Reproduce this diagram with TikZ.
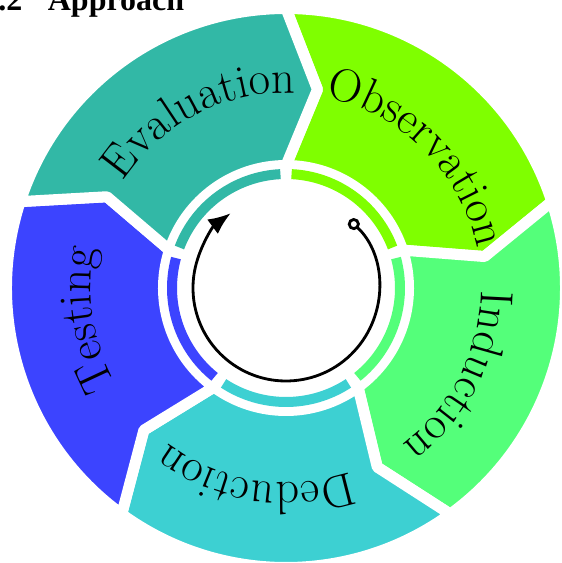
\documentclass[tikz,border=0pt]{standalone}
\usepackage{fontspec}
\newfontfamily\headfont{Liberation Serif}
\usetikzlibrary{decorations.text,arrows.meta}

\definecolor{obscol}{RGB}{127,255,0}
\definecolor{indcol}{RGB}{84,255,122}
\definecolor{dedcol}{RGB}{61,208,210}
\definecolor{testcol}{RGB}{60,68,255}
\definecolor{evalcol}{RGB}{50,184,166}

\newcommand{\segfont}{\fontsize{26.5}{31}\selectfont}
% radii of the ring (cm)
\newcommand{\rOut}{5.59}
\newcommand{\rIn}{2.45}
\newcommand{\rMid}{4.02}
\newcommand{\rText}{3.90}
\newcommand{\rRing}{2.28}
\newcommand{\rArr}{1.86}

\tikzset{
    segment/.style={fill=#1,draw=white,line width=0.22cm,line join=round},
    ringarc/.style={draw=#1,line width=0.2cm},
    cyclearrow/.style={line width=1.6pt,
        {Circle[open,length=0.24cm,width=0.24cm]}-{Latex[length=0.45cm,width=0.36cm]}},
}

\begin{document}
\begin{tikzpicture}
\useasboundingbox (-5.72,-5.50) rectangle (5.50,5.76);
\fill[white] (-5.72,-5.50) rectangle (5.50,5.76);

\node[anchor=base west,inner sep=0,font=\headfont\bfseries\fontsize{18.2}{22}\selectfont]
    (heading) at (-6.08,5.54) {5.2\hspace{0.8em}Approach};

% the five arrow shaped segments, clockwise
\foreach \a/\col/\word in {90/obscol/Observation,18/indcol/Induction,
        -54/dedcol/Deduction,-126/testcol/Testing,162/evalcol/Evaluation}{
    \pgfmathsetmacro{\segEnd}{\a-72}
    \pgfmathsetmacro{\segTip}{\a-81}
    \pgfmathsetmacro{\segNotch}{\a-9}
    \pgfmathsetmacro{\segMid}{\a-45}
    \pgfmathsetmacro{\txtFrom}{\segMid+50}
    \pgfmathsetmacro{\txtTo}{\segMid-50}
    \pgfmathsetmacro{\ringFrom}{\a-2.8}
    \pgfmathsetmacro{\ringTo}{\segEnd+2.8}
    \filldraw[segment=\col] (\a:\rOut) arc[start angle=\a,end angle=\segEnd,radius=\rOut]
        -- (\segTip:\rMid) -- (\segEnd:\rIn)
        arc[start angle=\segEnd,end angle=\a,radius=\rIn]
        -- (\segNotch:\rMid) -- cycle;
    \path[decorate,decoration={text along path,text align=center,
            text/.expanded={|\noexpand\segfont|\word}}]
        (\txtFrom:\rText) arc[start angle=\txtFrom,end angle=\txtTo,radius=\rText];
    \draw[ringarc=\col] (\ringFrom:\rRing) arc[start angle=\ringFrom,end angle=\ringTo,radius=\rRing];
}

% cycle arrow in the middle
\draw[cyclearrow] (47:\rArr) arc[start angle=47,end angle=-233.5,radius=\rArr];

\end{tikzpicture}
\end{document}
